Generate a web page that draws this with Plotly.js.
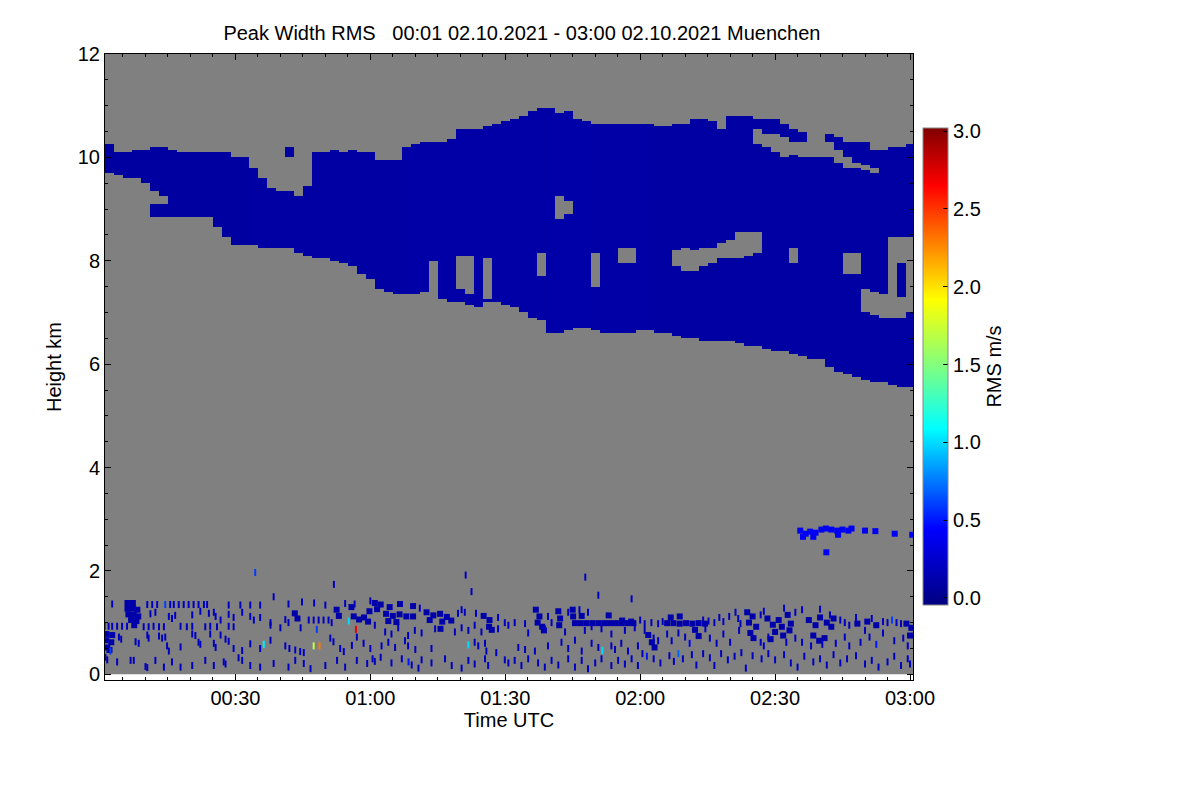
<!DOCTYPE html>
<html>
<head>
<meta charset="utf-8">
<script src="https://cdn.plot.ly/plotly-3.0.1.min.js"></script>
<style>body{margin:0;background:#fff}</style>
</head>
<body>
<div id="chart" style="width:1200px;height:800px"></div>
<script>
// cloud layer, one value per 2-minute column (00:02 ... 03:00), heights in km
var cloudTop = [
    10.24,10.08,10.10,10.14,10.14,10.18,10.18,10.16,10.10,10.08,
    10.10,10.08,10.08,10.08,10.01,9.99,9.81,9.62,9.41,9.35,
    10.22,9.23,9.46,10.08,10.10,10.14,10.10,10.14,10.10,10.08,
    9.95,9.95,9.95,10.20,10.24,10.28,10.28,10.28,10.37,10.53,
    10.57,10.57,10.59,10.63,10.68,10.77,10.78,10.88,10.95,10.95,
    10.86,10.88,10.73,10.68,10.63,10.63,10.63,10.66,10.66,10.63,
    10.63,10.59,10.59,10.63,10.66,10.73,10.73,10.68,10.53,10.82,
    10.82,10.82,10.77,10.73,10.77,10.66,10.57,10.49,10.01,10.01,
    10.47,10.39,10.30,10.28,10.28,10.14,10.14,10.18,10.20,10.24
];
var cloudBase = [
    9.70,9.66,9.62,9.60,9.52,8.84,8.84,8.84,8.83,8.83,
    8.83,8.83,8.65,8.44,8.30,8.30,8.30,8.26,8.26,8.24,
    8.24,8.15,8.11,8.07,8.05,8.01,7.95,7.88,7.76,7.63,
    7.43,7.39,7.37,7.37,7.37,7.39,8.01,7.24,7.18,7.18,
    7.14,7.10,7.18,7.18,7.14,7.08,7.01,6.91,6.85,6.60,
    6.60,6.66,6.72,6.72,6.66,6.60,6.60,6.60,6.62,6.66,
    6.66,6.60,6.60,6.56,6.50,6.50,6.46,6.46,6.46,6.43,
    6.41,6.37,6.33,6.31,6.27,6.23,6.21,6.14,6.12,6.08,
    5.94,5.84,5.79,5.73,5.69,5.65,5.63,5.59,5.57,5.55
];
var cloudVal = [
    0.08,0.08,0.08,0.08,0.08,0.08,0.08,0.08,0.08,0.08,
    0.08,0.08,0.08,0.08,0.08,0.08,0.09,0.09,0.09,0.09,
    0.09,0.09,0.09,0.09,0.09,0.09,0.09,0.09,0.09,0.09,
    0.09,0.09,0.09,0.10,0.10,0.10,0.10,0.10,0.10,0.10,
    0.10,0.10,0.10,0.10,0.10,0.10,0.10,0.10,0.10,0.10,
    0.11,0.11,0.11,0.11,0.10,0.10,0.10,0.10,0.10,0.10,
    0.10,0.09,0.09,0.09,0.09,0.09,0.09,0.09,0.09,0.09,
    0.09,0.09,0.09,0.09,0.09,0.09,0.09,0.09,0.09,0.09,
    0.09,0.09,0.09,0.09,0.09,0.09,0.09,0.09,0.09,0.09
];

// gaps inside the cloud: column index, upper and lower edge (km)
var holeCol    = [5, 6, 20, 50, 51, 72, 73, 74, 75, 76, 77, 80, 81, 82, 83, 84, 85, 88,
                  39, 40, 42, 48, 54, 57, 58, 63, 64, 65, 66, 67, 68, 69, 70, 71, 72, 76, 82, 83, 84, 85, 86, 87, 88, 89];
var holeTop    = [9.33, 9.27, 9.99, 9.23, 9.17, 10.53, 10.43, 10.43, 10.39, 10.28, 10.28, 10.28, 10.14, 10.01, 9.91, 9.85, 9.81, 8.46,
                  8.11, 8.11, 8.07, 8.15, 8.15, 8.26, 8.26, 8.21, 8.24, 8.21, 8.26, 8.26, 8.34, 8.40, 8.54, 8.55, 8.55, 8.24, 8.15, 8.15, 7.43, 7.39, 7.37, 8.46, 7.30, 8.46];
var holeBottom = [9.08, 9.08, 9.33, 8.79, 8.88, 10.24, 10.18, 10.08, 10.01, 10.04, 9.99, 9.99, 9.91, 9.81, 9.79, 9.75, 9.72, 7.95,
                  7.43, 7.33, 7.24, 7.68, 7.49, 7.95, 7.95, 7.88, 7.78, 7.78, 7.88, 7.95, 8.07, 8.05, 8.07, 8.11, 8.15, 7.95, 7.76, 7.76, 6.99, 6.95, 6.91, 6.91, 6.91, 6.99];

// dense low clutter patches [minutes after 00:00, km]
var lowPatches = [
    [6.0,1.38],[7.2,1.38],[6.0,1.27],[7.2,1.27],[8.2,1.25],[6.2,1.16],[7.4,1.15],[8.4,1.12],[6.8,1.05],[8.0,1.03],[7.5,0.95],
    [1.3,0.78],[2.6,0.76],[1.3,0.66],[2.4,0.62],[1.5,0.52],[2.0,0.47],
    [43.2,1.18],[43.8,1.08],
    [52.5,1.25],[53.0,1.13],[55.8,1.30],[56.3,1.12],[57.5,1.06],[58.6,1.10],[59.5,1.02],[59.8,1.22],
    [61.0,1.38],[62.3,1.35],[61.5,1.26],
    [64.3,1.30],[66.6,1.36],[69.5,1.32],[63.5,1.17],[65.0,1.13],[66.5,1.16],[68.0,1.12],[69.5,1.12],[64.0,1.03],[65.8,1.01],
    [72.5,1.20],[74.0,1.14],[75.5,1.17],[77.0,1.11],[78.0,1.04],[76.0,1.02],[73.2,1.05],[75.6,0.88],
    [85.2,1.13],[86.5,1.05],[86.4,0.92],[87.0,0.86],
    [96.8,1.25],[97.6,1.12],[97.2,1.00],[98.2,0.92],[98.6,0.85],
    [101.8,1.22],[102.2,1.08],[102.0,0.95],
    [105.0,1.25],[105.1,1.12],[107.0,1.13],
    [105.5,0.99],[106.8,0.99],[108.1,0.99],[109.4,0.99],[110.7,0.99],[112.0,0.99],[113.3,0.99],[114.6,0.99],[115.9,0.99],[117.2,0.99],[118.5,0.99],
    [113.0,1.14],[116.0,1.04],[118.0,1.02],
    [126.0,0.99],[127.4,0.99],[128.8,0.98],[130.2,0.99],[131.6,0.98],[133.0,0.99],[134.4,0.98],
    [121.8,0.76],[122.6,0.62],[123.2,0.52],
    [126.8,1.10],[128.8,1.12],[132.2,0.86],[133.0,0.74],
    [143.8,1.20],[145.0,1.12],[144.2,1.00],[145.8,0.92],[144.5,0.80],[145.2,0.70],
    [148.3,1.08],[149.5,0.96],[150.8,1.05],[151.5,0.92],[152.8,1.15],[153.5,0.98],[150.0,0.82],[151.8,0.75],[153.2,0.85],[149.0,0.68],
    [157.5,1.05],[159.0,0.95],[160.0,1.10],[161.5,1.00],[163.0,1.08],[158.5,0.75],[159.8,0.65],[161.0,0.70],[162.5,0.92],
    [168.3,0.98],[170.5,1.02],[172.5,0.95],
    [179.2,0.98],[180.3,0.90],[180.0,0.75]
];
var lowPatchVal = 0.12;

// echo layer near 2.8 km after 02:35
var midPatches = [
    [155.6,2.78],[156.8,2.72],[157.8,2.76],[159.0,2.74],[160.3,2.80],[161.3,2.82],[162.5,2.80],[163.8,2.78],
    [165.0,2.80],[166.3,2.78],[167.0,2.82],[156.2,2.66],[158.5,2.66],[164.0,2.70],[170.0,2.78],[172.3,2.77],
    [176.6,2.72],[180.5,2.70],[161.4,2.36]
];
var midPatchVal = 0.4;

// single range gates of clutter [minutes, km]
var lowSpeckles = [
    [2.6,1.36],[10.4,1.35],[11.5,1.35],[12.6,1.35],[15.5,1.35],[16.3,1.35],[17.4,1.35],[18.5,1.35],[19.6,1.35],[20.7,1.35],
    [21.8,1.35],[23.0,1.35],[23.7,1.35],[28.5,1.34],[31.1,1.34],[33.3,1.34],[35.5,1.34],[38.5,1.50],[41.8,1.36],[44.8,1.40],
    [47.5,1.38],[50.0,1.34],[54.4,1.37],[56.5,1.36],[60.0,1.42],
    [11.1,1.17],[12.2,1.20],[15.2,1.12],[15.9,1.08],[16.6,1.14],[20.4,1.15],[22.2,1.22],[24.1,1.18],[25.2,1.20],[25.6,1.12],
    [26.7,1.05],[28.5,1.16],[29.6,1.10],[31.5,1.20],[33.3,1.12],[34.1,1.05],[35.5,1.10],[37.8,1.00],[41.1,1.06],[41.8,1.00],
    [46.3,1.05],[47.4,1.05],[48.5,1.05],[49.6,1.05],[50.7,1.05],[51.4,1.00],
    [0.9,0.93],[1.8,0.93],[2.6,0.93],[3.7,0.93],[4.8,0.93],[5.9,0.93],[9.6,0.92],[10.7,0.92],[11.8,0.93],[13.0,0.92],
    [14.1,0.92],[17.8,0.93],[19.2,0.92],[20.4,0.93],[23.3,0.92],[24.4,0.93],[25.9,0.92],[28.5,0.93],[29.6,0.92],[37.8,0.95],
    [40.0,0.90],[44.5,0.90],
    [4.1,0.72],[4.6,0.68],[7.8,0.63],[8.5,0.60],[10.4,0.76],[10.7,0.70],[13.0,0.74],[13.7,0.70],[14.4,0.72],[14.8,0.55],
    [15.2,0.45],[17.8,0.53],[20.4,0.78],[21.1,0.75],[21.8,0.62],[22.2,0.58],[24.4,0.78],[25.2,0.60],[25.6,0.52],[26.7,0.76],
    [27.8,0.68],[28.5,0.64],[29.6,0.50],[31.5,0.46],[33.3,0.59],[35.5,0.50],[37.8,0.66],[41.1,0.55],[42.0,0.50],[43.3,0.47],
    [44.4,0.44],[45.2,0.42],[51.1,0.70],[51.8,0.63],[53.3,0.50],[54.1,0.44],[55.9,0.56],[57.0,0.72],[58.5,0.60],[60.0,0.50],
    [1.1,0.33],[1.5,0.28],[3.7,0.24],[6.7,0.27],[7.4,0.27],[10.0,0.15],[10.4,0.13],[12.2,0.27],[14.1,0.14],[15.9,0.24],
    [17.8,0.14],[20.4,0.17],[23.3,0.27],[25.2,0.17],[27.4,0.24],[27.8,0.20],[30.7,0.32],[31.5,0.27],[33.3,0.17],[35.5,0.14],
    [38.5,0.21],[41.8,0.14],[43.3,0.27],[45.2,0.21],[46.7,0.11],[50.0,0.17],[52.6,0.27],[54.4,0.14],[57.0,0.27],[59.3,0.21],
    [51.9,1.74],[81.2,1.92],[107.8,1.88],[82.5,1.60],[110.7,1.53],[118.1,1.46],
    [71.0,1.28],[79.5,1.18],[80.3,1.25],[81.0,1.20],[83.5,1.18],[88.4,1.10],[89.9,1.00],[92.1,1.00],[94.4,0.98],[99.5,1.12],
    [100.3,1.00],[104.0,1.20],[106.5,1.25],[108.4,1.20],
    [61.0,0.95],[63.3,0.82],[64.7,0.78],[66.2,0.90],[68.4,0.75],[69.9,0.85],[71.4,0.80],[74.4,0.88],[78.8,0.82],[80.3,0.90],
    [81.8,0.85],[83.2,0.95],[84.7,0.82],[88.4,0.88],[90.7,0.95],[95.1,0.80],[98.8,0.88],[103.3,0.82],[107.7,0.85],[109.2,0.92],
    [111.4,0.88],[113.6,0.78],[116.6,0.85],[118.8,0.90],
    [62.5,0.55],[64.0,0.62],[65.5,0.52],[67.7,0.65],[68.4,0.55],[70.0,0.48],[73.6,0.50],[83.2,0.62],[84.0,0.55],[85.5,0.60],
    [85.8,0.45],[88.0,0.42],[92.9,0.52],[94.4,0.48],[96.6,0.45],[99.5,0.55],[102.5,0.62],[104.0,0.50],[105.5,0.66],[107.0,0.45],
    [109.2,0.60],[110.7,0.52],[113.6,0.55],[114.4,0.48],[115.8,0.60],[117.3,0.45],[119.5,0.55],
    [60.5,0.30],[61.0,0.25],[62.3,0.33],[64.7,0.22],[67.0,0.30],[69.2,0.18],[70.7,0.12],[71.4,0.28],[73.6,0.22],[76.6,0.30],
    [78.1,0.17],[80.3,0.12],[81.8,0.27],[83.2,0.20],[85.5,0.30],[86.2,0.17],[89.9,0.28],[90.7,0.22],[92.1,0.27],[93.6,0.17],
    [95.1,0.30],[97.3,0.22],[98.8,0.14],[100.3,0.27],[101.8,0.18],[104.0,0.30],[105.5,0.14],[107.0,0.27],[108.4,0.11],[110.0,0.22],
    [111.4,0.30],[113.6,0.17],[115.1,0.27],[116.6,0.20],[118.1,0.30],[119.5,0.17],
    [120.0,1.05],[121.0,0.98],[122.5,1.00],[124.0,0.98],[125.0,1.02],[134.0,1.05],[135.2,1.03],[136.5,1.00],[137.6,1.10],[138.5,1.02],
    [139.8,1.12],[141.2,1.20],[141.8,1.08],[142.3,0.98],[146.8,1.15],[147.5,1.22],[152.0,1.28],[154.5,1.20],[156.0,1.25],[160.0,1.26],
    [162.2,1.15],[164.5,1.05],[165.5,1.00],[166.5,0.95],[168.0,1.10],[171.5,1.08],[174.0,1.02],[175.0,1.00],[177.0,1.00],[178.0,0.98],
    [121.0,0.85],[123.0,0.70],[124.0,0.65],[126.0,0.78],[127.0,0.65],[128.5,0.80],[130.0,0.72],[134.5,0.88],[135.5,0.70],[137.0,0.60],
    [138.5,0.78],[140.0,0.62],[142.0,0.85],[146.8,0.62],[147.5,0.55],[148.5,0.72],[152.5,0.62],[154.5,0.70],[156.0,0.62],[158.0,0.55],
    [160.5,0.58],[163.5,0.60],[165.5,0.72],[166.5,0.55],[169.0,0.62],[170.0,0.85],[171.0,0.72],[174.0,0.80],[176.5,0.65],[178.5,0.70],
    [179.5,0.55],
    [120.5,0.40],[123.0,0.30],[124.5,0.22],[126.5,0.36],[127.5,0.25],[129.5,0.30],[131.5,0.38],[132.5,0.18],[134.0,0.40],[135.5,0.32],
    [136.5,0.17],[138.0,0.40],[139.5,0.28],[141.0,0.35],[142.5,0.42],[143.5,0.12],[145.0,0.36],[147.0,0.30],[148.5,0.40],[150.0,0.28],
    [152.0,0.38],[153.5,0.22],[155.0,0.14],[156.5,0.35],[158.5,0.24],[160.0,0.30],[161.5,0.18],[163.0,0.38],[164.5,0.22],[166.0,0.30],
    [168.0,0.36],[170.0,0.20],[171.5,0.27],[173.0,0.14],[175.0,0.24],[176.5,0.35],[178.0,0.17],[179.5,0.30],[180.0,0.20]
];
var lowSpeckleVal = 0.2;

// isolated gates with higher RMS [minutes, km, m/s]
var brightSpeckles = [
    [14.4,1.35,0.6],[36.3,0.58,1.05],[47.4,0.55,1.7],[48.1,0.87,0.6],[48.7,0.55,2.3],[55.2,1.03,1.0],
    [56.8,0.87,2.7],[34.4,1.97,0.6],[81.8,0.57,1.0],[111.6,0.46,1.0],[68.5,0.24,0.5],[176.0,1.05,0.6],
    [131.0,0.60,0.4],[172.5,0.58,0.5],[121.5,0.35,0.5],[128.5,0.40,0.7],[2.2,0.45,0.6]
];

var cbTickVals = [0, 0.5, 1, 1.5, 2, 2.5, 3];
var cbTickText = ['0.0', '0.5', '1.0', '1.5', '2.0', '2.5', '3.0'];

var rmsScale = [
    [0, 'rgb(0,0,128)'], [0.16, 'rgb(0,0,255)'], [0.37, 'rgb(0,255,255)'],
    [0.5, 'rgb(128,255,128)'], [0.64, 'rgb(255,255,0)'], [0.88, 'rgb(255,0,0)'], [1, 'rgb(128,0,0)']
];
var cMin = -0.045, cMax = 3.02;

function pad(n) {
    return (n < 10 ? '0' : '') + n;
}
function clock(m) {
    var s = Math.round(m * 60);
    return '2021-10-02 ' + pad(Math.floor(s / 3600)) + ':' + pad(Math.floor(s % 3600 / 60)) + ':' + pad(s % 60);
}

// build the height/time grid of the cloud layer
var colTimes = [], rowHeights = [];
for (var i = 0; i < cloudTop.length; i++) colTimes.push(clock(2 + 2 * i));
for (var k = 0; k < 240; k++) rowHeights.push(0.025 + 0.05 * k);

var z = rowHeights.map(function (h) {
    return cloudTop.map(function (top, c) {
        if (h > top || h < cloudBase[c]) return null;
        for (var j = 0; j < holeCol.length; j++) {
            if (holeCol[j] == c && h < holeTop[j] && h > holeBottom[j]) return null;
        }
        return cloudVal[c];
    });
});

function pick(list, n) {
    return list.map(function (p) { return p[n]; });
}

var cloudTrace = {
    type: 'heatmap',
    x: colTimes,
    y: rowHeights,
    z: z,
    zmin: cMin,
    zmax: cMax,
    colorscale: rmsScale,
    zsmooth: false,
    hoverinfo: 'skip',
    colorbar: {
        x: 1.0124, xanchor: 'left', xpad: 0,
        y: 0.8818, yanchor: 'top', ypad: 0,
        len: 477, lenmode: 'pixels',
        thickness: 25,
        outlinecolor: '#888', outlinewidth: 1,
        tickmode: 'array', tickvals: cbTickVals, ticktext: cbTickText,
        ticks: 'inside', ticklen: 5, tickcolor: '#000',
        tickfont: {size: 20, color: '#000'},
        title: {text: 'RMS m/s', side: 'right', font: {size: 20, color: '#000'}}
    }
};

var patchTrace = {
    type: 'scatter', mode: 'markers', hoverinfo: 'skip', showlegend: false,
    x: pick(lowPatches, 0).concat(pick(midPatches, 0)).map(clock),
    y: pick(lowPatches, 1).concat(pick(midPatches, 1)),
    marker: {
        symbol: 'square', size: 6,
        color: lowPatches.map(function () { return lowPatchVal; }).concat(midPatches.map(function () { return midPatchVal; })),
        colorscale: rmsScale, cmin: cMin, cmax: cMax, showscale: false,
        line: {width: 0}
    }
};

var speckleVals = lowSpeckles.map(function () { return lowSpeckleVal; }).concat(pick(brightSpeckles, 2));
var speckleTrace = {
    type: 'scatter', mode: 'markers', hoverinfo: 'skip', showlegend: false,
    x: pick(lowSpeckles, 0).concat(pick(brightSpeckles, 0)).map(clock),
    y: pick(lowSpeckles, 1).concat(pick(brightSpeckles, 1)),
    marker: {
        symbol: 'line-ns', size: 5,
        color: speckleVals,
        colorscale: rmsScale, cmin: cMin, cmax: cMax, showscale: false,
        line: {width: 2, color: speckleVals, colorscale: rmsScale, cmin: cMin, cmax: cMax}
    }
};

var fontFam = '"Liberation Sans", Arial, Helvetica, sans-serif';

var layout = {
    width: 1200,
    height: 800,
    margin: {l: 105, r: 287, t: 54, b: 120},
    paper_bgcolor: '#fff',
    plot_bgcolor: '#fff',
    font: {family: fontFam, size: 20, color: '#000'},
    showlegend: false,
    title: {
        text: 'Peak Width RMS\u00a0\u00a0\u00a000:01 02.10.2021 - 03:00 02.10.2021 Muenchen',
        font: {size: 20, color: '#000'},
        xref: 'paper', x: 0.516, xanchor: 'center',
        yref: 'container', y: 0.959, yanchor: 'middle'
    },
    xaxis: {
        type: 'date',
        range: ['2021-10-02 00:01:00', '2021-10-02 03:00:40'],
        tick0: '2021-10-02 00:00:00',
        dtick: 1800000,
        tickformat: '%H:%M',
        ticks: 'inside', ticklen: 6, tickcolor: '#000', tickwidth: 1,
        minor: {dtick: 300000, tick0: '2021-10-02 00:00:00', ticks: 'inside', ticklen: 3, tickcolor: '#000'},
        showline: true, linecolor: '#000', linewidth: 1, mirror: 'ticks',
        showgrid: false, zeroline: false,
        tickfont: {size: 20},
        title: {text: 'Time UTC', font: {size: 20}, standoff: 2}
    },
    yaxis: {
        range: [-0.11, 12],
        tick0: 0, dtick: 2,
        ticks: 'inside', ticklen: 6, tickcolor: '#000', tickwidth: 1,
        minor: {dtick: 0.5, tick0: 0, ticks: 'inside', ticklen: 3, tickcolor: '#000'},
        showline: true, linecolor: '#000', linewidth: 1, mirror: 'ticks',
        showgrid: false, zeroline: false,
        tickfont: {size: 20},
        title: {text: 'Height km', font: {size: 20}, standoff: 10}
    },
    shapes: [{
        type: 'rect', layer: 'below',
        xref: 'paper', x0: 0, x1: 1,
        yref: 'y', y0: 0, y1: 12,
        fillcolor: '#808080', line: {width: 0}
    }]
};

Plotly.newPlot('chart', [cloudTrace, patchTrace, speckleTrace], layout, {displayModeBar: false, staticPlot: true});
</script>
</body>
</html>
